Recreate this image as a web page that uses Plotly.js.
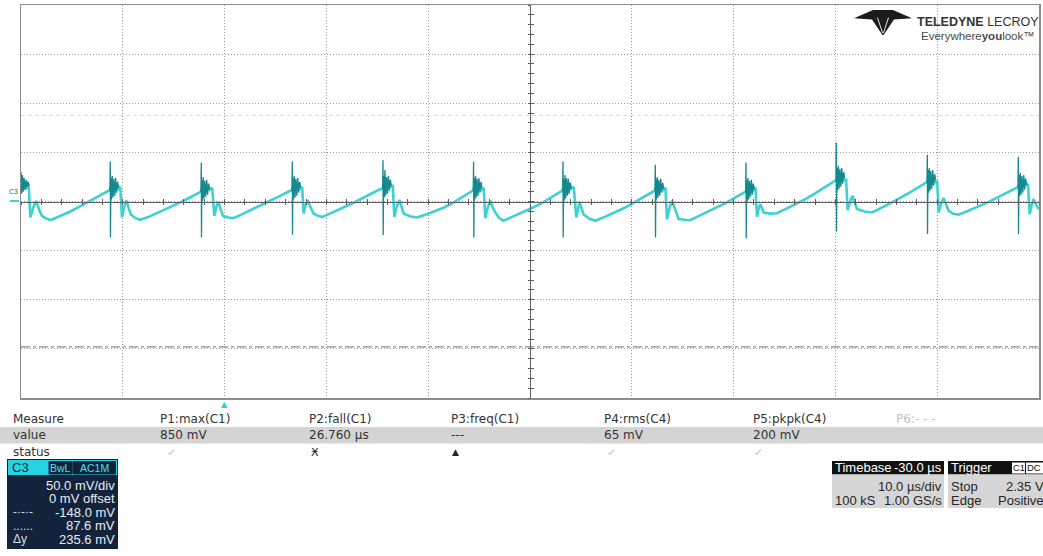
<!DOCTYPE html>
<html>
<head>
<meta charset="utf-8">
<script src="https://cdn.plot.ly/plotly-3.0.1.min.js"></script>
<style>
  html, body { margin: 0; padding: 0; background: #ffffff; }
  #scope { width: 1043px; height: 556px; }
</style>
</head>
<body>
<div id="scope"></div>
<script>
// ---- C3 acquisition: time in microseconds, level in millivolts ----
const timeUs = [
  -20.00, -19.85, -19.70, -19.55, -19.40, -19.25, -19.08, -18.80, -18.50, -18.20, -17.94, -17.50, -17.10, -16.20, -15.20, -14.20, -13.20, -12.30, -11.42,
  -11.30, -11.05, -10.85, -10.62, -10.42, -10.25, -10.08, -9.88, -9.66, -9.42, -9.19, -8.75, -8.28, -7.30, -6.30, -5.30, -4.40, -3.40, -2.46,
  -2.36, -2.10, -1.90, -1.68, -1.46, -1.22, -1.01, -0.80, -0.59, -0.38, -0.16, 0.35, 0.85, 1.80, 2.75, 3.70, 4.60, 5.50, 6.45,
  6.58, 6.85, 7.05, 7.25, 7.45, 7.62, 7.76, 7.95, 8.15, 8.45, 8.74, 9.15, 9.60, 10.50, 11.50, 12.40, 13.40, 14.30, 15.30,
  15.48, 15.75, 15.95, 16.15, 16.35, 16.52, 16.67, 16.92, 17.19, 17.38, 17.58, 18.20, 18.90, 19.80, 20.60, 21.50, 22.40, 23.30, 24.30,
  24.38, 24.65, 24.85, 25.05, 25.25, 25.45, 25.61, 25.85, 26.10, 26.30, 26.49, 26.95, 27.40, 28.30, 29.30, 30.30, 31.20, 32.20, 33.14,
  33.17, 33.45, 33.65, 33.85, 34.05, 34.30, 34.55, 34.70, 34.87, 35.07, 35.27, 35.85, 36.42, 37.40, 38.30, 39.30, 40.20, 41.20, 42.14,
  42.24, 42.50, 42.72, 42.92, 43.12, 43.30, 43.46, 43.70, 43.95, 44.30, 44.60, 45.20, 45.75, 46.60, 47.50, 48.40, 49.20, 50.10, 50.98,
  51.15, 51.42, 51.62, 51.82, 52.00, 52.15, 52.30, 52.45, 52.62, 52.80, 52.95, 53.60, 54.26, 55.20, 56.10, 57.10, 58.00, 59.00, 59.99,
  60.03, 60.28, 60.48, 60.68, 60.88, 61.05, 61.20, 61.45, 61.69, 61.90, 62.12, 62.85, 63.60, 64.50, 65.40, 66.20, 67.10, 67.95, 68.83,
  68.96, 69.22, 69.42, 69.62, 69.82, 70.00, 70.14, 70.40, 70.63, 70.88, 71.12, 71.60, 72.10, 73.00, 74.00, 75.00, 75.90, 76.90, 77.84,
  77.91, 78.15, 78.35, 78.55, 78.75, 78.92, 79.08, 79.28, 79.47, 79.70, 79.93, 80.00
];
const c3mV = [
  26, 14, 22, 12, 20, 17, -16.3, -6.0, 0.7, -9.0, -14.6, -17.5, -18.9, -15.2, -10.4, -4.9, 0.5, 5.8, 10.9,
  11.5, 16, 12, 19, 13, 15, -16.3, -6.0, 1.4, -7.0, -13.5, -17.0, -18.6, -14.9, -10.3, -5.6, -1.1, 4.1, 9.2,
  9.8, 15, 11, 18, 12, 14, -14.6, -5.0, -0.3, -8.0, -14.6, -16.2, -16.9, -12.6, -8.0, -3.5, 1.2, 5.9, 10.9,
  11.3, 17, 12, 19, 13, 15, -12.2, -4.0, 1.4, -6.0, -12.2, -14.6, -15.6, -11.6, -7.1, -2.6, 2.5, 7.4, 12.6,
  12.9, 18, 13, 21, 14, 17, -15.6, -5.0, 1.4, -6.0, -12.2, -15.0, -16.3, -13.2, -10.3, -6.3, -1.6, 4.3, 10.9,
  11.2, 16, 11, 19, 12, 14, -16.9, -6.0, 0.7, -5.0, -9.5, -16.5, -19.6, -15.4, -10.9, -6.1, -1.4, 4.6, 10.9,
  11.4, 17, 12, 19, 13, 15, -16.3, -7.0, -0.3, -7.0, -13.2, -17.6, -19.6, -15.4, -11.2, -6.4, -1.2, 4.8, 10.9,
  11.0, 16, 11, 18, 12, 14, -17.9, -7.0, 0.7, -9.0, -17.9, -18.6, -18.9, -14.6, -10.3, -5.8, -1.6, 3.8, 9.2,
  9.8, 15, 11, 18, 12, 13, -15.6, -8.0, -2.6, -7.0, -11.2, -12.3, -11.9, -7.2, -2.8, 2.6, 8.3, 14.7, 21.1,
  21.6, 26, 20, 28, 21, 23, -8.8, 0.0, 5.8, -1.0, -7.7, -10.2, -11.2, -6.4, -1.9, 2.6, 7.9, 13.4, 19.3,
  19.6, 24, 18, 26, 19, 21, -11.2, -2.0, 3.5, -3.0, -9.5, -12.6, -13.5, -9.6, -5.2, -0.6, 4.0, 9.2, 14.3,
  14.6, 20, 15, 23, 16, 18, -12.8, -4.0, 2.4, -3.0, -7.4, -8.0
];

// Switching edges: the spike and the ringing that follows each one (null breaks the line)
const ringTimeUs = [
  -20.00, -19.94, -19.86, -19.78, -19.70, -19.60, -19.50, -19.40, -19.30, -19.20, null,
  -11.27, -11.23, -11.21, -11.17, -11.11, -11.04, -10.96, -10.88, -10.79, -10.70, -10.61, -10.51, -10.41, null,
  -2.33, -2.29, -2.27, -2.23, -2.17, -2.10, -2.02, -1.94, -1.85, -1.76, -1.67, -1.57, -1.47, null,
  6.61, 6.65, 6.67, 6.71, 6.77, 6.84, 6.92, 7.00, 7.09, 7.18, 7.27, 7.37, 7.47, null,
  15.52, 15.56, 15.58, 15.62, 15.68, 15.75, 15.83, 15.91, 16.00, 16.09, 16.18, 16.28, 16.38, null,
  24.42, 24.46, 24.48, 24.52, 24.58, 24.65, 24.73, 24.81, 24.90, 24.99, 25.08, 25.18, 25.28, null,
  33.20, 33.24, 33.26, 33.30, 33.36, 33.43, 33.51, 33.59, 33.68, 33.77, 33.86, 33.96, 34.06, null,
  42.27, 42.31, 42.33, 42.37, 42.43, 42.50, 42.58, 42.66, 42.75, 42.84, 42.93, 43.03, 43.13, null,
  51.18, 51.22, 51.24, 51.28, 51.34, 51.41, 51.49, 51.57, 51.66, 51.75, 51.84, 51.94, 52.04, null,
  60.05, 60.09, 60.11, 60.15, 60.21, 60.28, 60.36, 60.44, 60.53, 60.62, 60.71, 60.81, 60.91, null,
  68.99, 69.03, 69.05, 69.09, 69.15, 69.22, 69.30, 69.38, 69.47, 69.56, 69.65, 69.75, 69.85, null,
  77.93, 77.97, 77.99, 78.03, 78.09, 78.16, 78.24, 78.32, 78.41, 78.50, 78.59, 78.69, 78.79
];
const ringMV = [
  30, 8, 27, 10, 24, 12, 22, 14, 20, 16, null,
  11, 40.7, -36.6, 24, 2, 26, 4, 23, 6, 24, 9, 20, 14, null,
  9.5, 39.7, -36.6, 22, 0, 25, 3, 21, 5, 22, 7, 18, 12, null,
  11, 40.7, -33.9, 24, 2, 26, 4, 23, 6, 24, 9, 20, 14, null,
  12.6, 42.1, -34.2, 26, 4, 32, 6, 25, 8, 26, 11, 22, 16, null,
  11, 40.7, -36.6, 24, 2, 26, 4, 23, 6, 24, 9, 20, 14, null,
  11, 40.7, -36.6, 23, 1, 27, 3, 24, 6, 23, 8, 19, 13, null,
  11, 37.4, -36.6, 23, 2, 25, 4, 22, 6, 23, 9, 19, 13, null,
  9.5, 39.7, -37.3, 22, 0, 24, 2, 21, 5, 22, 7, 18, 12, null,
  21, 60.1, -30.5, 34, 11, 36, 13, 33, 15, 34, 18, 30, 24, null,
  19.3, 47.5, -33.2, 32, 9, 34, 11, 31, 13, 32, 16, 28, 22, null,
  14.3, 45.5, -33.2, 27, 5, 29, 7, 26, 9, 27, 12, 23, 17
];

// Horizontal cursors on C3 (mV)
const cursorLevelsMV = [-148.0, 87.6];

// Channel and timebase settings
const c3Settings = ['50.0 mV/div', '0 mV offset'];
const timebaseText = ['Timebase', '-30.0 µs', '10.0 µs/div', '100 kS', '1.00 GS/s'];
const triggerText = ['Trigger', 'C1', 'DC', 'Stop', '2.35 V', 'Edge', 'Positive'];

// Measurement table
const measureHeads = ['P1:max(C1)', 'P2:fall(C1)', 'P3:freq(C1)', 'P4:rms(C4)', 'P5:pkpk(C4)', 'P6:- - -'];
const measureValues = ['850 mV', '26.760 µs', '---', '65 mV', '200 mV', ''];
const measureStatus = ['✓', 'Ӿ', '▲', '✓', '✓', ''];

// ---- screen geometry (pixels) ----
const PAGE_W = 1043, PAGE_H = 556;
const L = 21, T = 5, W = 1018, H = 393;
const px2x = p => (p - L) / W;
const px2y = p => 1 - (p - T) / H;

const tRange = [-20, 80];
const vRange = [-200, 200];

const TRACE_CYAN = '#3cd2d4';
const TRACE_DARK = '#15898e';
const tableFont = 'DejaVu Sans, Verdana, sans-serif';
const boxFont = 'Liberation Sans, Arial, Helvetica, sans-serif';

const annotations = [];
function label(text, x, y, o) {
  o = o || {};
  annotations.push({
    text: text, showarrow: false,
    xref: 'paper', yref: 'paper', x: px2x(x), y: px2y(y),
    xanchor: o.anchor || 'left', yanchor: 'middle',
    font: { family: o.family || tableFont, size: o.size || 12, color: o.color || '#333333' },
    borderpad: 0
  });
}
const shapes = [];
function box(x0, y0, x1, y1, fill, lineColor) {
  shapes.push({
    type: 'rect', xref: 'paper', yref: 'paper', layer: 'above',
    x0: px2x(x0), x1: px2x(x1), y0: px2y(y1), y1: px2y(y0),
    fillcolor: fill, line: { width: lineColor ? 1 : 0, color: lineColor || fill }
  });
}

// Cursor lines
shapes.push({
  type: 'line', xref: 'paper', yref: 'y', x0: 0, x1: 1, y0: cursorLevelsMV[0], y1: cursorLevelsMV[0],
  line: { color: '#8a8a8a', width: 1.3, dash: '9px,3px,3px,3px' }, layer: 'below'
});
shapes.push({
  type: 'line', xref: 'paper', yref: 'y', x0: 0, x1: 1, y0: cursorLevelsMV[1], y1: cursorLevelsMV[1],
  line: { color: '#dadada', width: 1, dash: '4px,3px' }, layer: 'below'
});

// Channel ground marker at the left edge
shapes.push({
  type: 'line', xref: 'paper', yref: 'paper', x0: px2x(10), x1: px2x(19), y0: px2y(201), y1: px2y(201),
  line: { color: TRACE_CYAN, width: 2 }
});
label('C3', 8, 191, { size: 7, color: '#555555', family: boxFont });

// Trigger position marker below the grid
annotations.push({
  text: '▲', showarrow: false, xref: 'x', yref: 'paper', x: 0, y: px2y(398),
  xanchor: 'center', yanchor: 'top', font: { size: 8, color: '#33c9da', family: tableFont }
});

// Measurement table
box(0, 427, PAGE_W, 443.5, '#d4d4d4');
const colX = [159, 308, 450, 603, 752, 895];
const statusX = [166, 310, 451, 606, 753];
label('Measure', 12, 419);
label('value', 12, 435);
label('status', 12, 452);
measureHeads.forEach((t, i) => label(t, colX[i], 419, { color: i === 5 ? '#c2c2c2' : '#333333' }));
measureValues.forEach((t, i) => { if (t) label(t, colX[i], 435); });
measureStatus.forEach((t, i) => {
  if (!t) return;
  const c = t === '✓' ? '#c4c4c4' : '#222222';
  label(t, statusX[i], 452, { size: t === '▲' ? 9 : 11, color: c });
});

// C3 channel box
box(7, 459, 118, 549, '#13233b');
box(8, 460, 117, 475, '#27d3e3');
label('C3', 11, 467.5, { family: boxFont, size: 13, color: '#13233b' });
box(49, 461.5, 72, 474, '#13233b', '#13233b');
box(73, 461.5, 115.5, 474, '#13233b', '#13233b');
label('BwL', 60.5, 468, { family: boxFont, size: 10.5, color: '#3fe0ef', anchor: 'center' });
label('AC1M', 94.2, 468, { family: boxFont, size: 10.5, color: '#3fe0ef', anchor: 'center' });
const c3Rows = [
  ['', c3Settings[0]],
  ['', c3Settings[1]],
  ['-·-·-', cursorLevelsMV[0].toFixed(1) + ' mV'],
  ['......', cursorLevelsMV[1].toFixed(1) + ' mV'],
  ['Δy', (cursorLevelsMV[1] - cursorLevelsMV[0]).toFixed(1) + ' mV']
];
c3Rows.forEach((r, i) => {
  const y = 485 + i * 13.6;
  if (r[0]) label(r[0], 12, y, { family: boxFont, size: 12, color: '#d8dde6' });
  label(r[1], 116, y, { family: boxFont, size: 13, color: '#e8ecf2', anchor: 'right' });
});

// Timebase box
box(832, 461, 944, 474.5, '#121212');
box(832, 474.5, 944, 508, '#d6d6d6');
label(timebaseText[0], 834, 468, { family: boxFont, size: 13, color: '#ffffff' });
label(timebaseText[1], 943, 468, { family: boxFont, size: 13, color: '#ffffff', anchor: 'right' });
label(timebaseText[2], 943, 486, { family: boxFont, size: 13, color: '#262626', anchor: 'right' });
label(timebaseText[3], 834, 500, { family: boxFont, size: 13, color: '#262626' });
label(timebaseText[4], 943, 500, { family: boxFont, size: 13, color: '#262626', anchor: 'right' });

// Trigger box
box(948, 461, 1050, 474.5, '#121212');
box(948, 474.5, 1050, 508, '#d6d6d6');
label(triggerText[0], 950, 468, { family: boxFont, size: 13, color: '#ffffff' });
box(1012, 462.5, 1025, 473.5, '#ffffff');
box(1026, 462.5, 1045, 473.5, '#ffffff');
label(triggerText[1], 1018.5, 468, { family: boxFont, size: 9.5, color: '#111111', anchor: 'center' });
label(triggerText[2], 1034, 468, { family: boxFont, size: 9.5, color: '#111111', anchor: 'center' });
label(triggerText[3], 950, 486, { family: boxFont, size: 13, color: '#262626' });
label(triggerText[4], 1045, 486, { family: boxFont, size: 13, color: '#262626', anchor: 'right' });
label(triggerText[5], 950, 500, { family: boxFont, size: 13, color: '#262626' });
label(triggerText[6], 1045, 500, { family: boxFont, size: 13, color: '#262626', anchor: 'right' });

// Brand mark, top right
label('<b>TELEDYNE</b> LECROY', 916, 21.5, { family: boxFont, size: 12.5, color: '#333333' });
label('Everywhere<b>you</b>look™', 920, 36, { family: boxFont, size: 11.5, color: '#4a4a4a' });
const markSvg =
  "<svg xmlns='http://www.w3.org/2000/svg' viewBox='0 0 58 28'>" +
  "<path d='M0 9.5 L19 1 L39 1 L58 9.5 L40 11 L29.6 27 L28.4 27 L18 11 Z' fill='#1c1c1c'/>" +
  "<path d='M23.5 9 L28.6 25 M34.5 9 L29.4 25' stroke='#ffffff' stroke-width='0.9' fill='none'/>" +
  "</svg>";

const hidden = { x: [null], y: [null], mode: 'lines', hoverinfo: 'skip', showlegend: false };
const traces = [
  { x: timeUs, y: c3mV, mode: 'lines', line: { color: TRACE_CYAN, width: 2.6 }, hoverinfo: 'skip' },
  { x: ringTimeUs, y: ringMV, mode: 'lines', connectgaps: false, line: { color: TRACE_DARK, width: 1.3 }, hoverinfo: 'skip' },
  Object.assign({ xaxis: 'x2', yaxis: 'y' }, hidden),
  Object.assign({ xaxis: 'x3', yaxis: 'y' }, hidden),
  Object.assign({ xaxis: 'x', yaxis: 'y2' }, hidden),
  Object.assign({ xaxis: 'x', yaxis: 'y3' }, hidden)
];

const gridAxis = {
  showgrid: true, gridcolor: '#9a9a9a', gridwidth: 1, griddash: '1px,2px',
  zeroline: false, showticklabels: false, ticks: '',
  showline: true, mirror: true, linecolor: '#8c8c8c', linewidth: 1.5, fixedrange: true
};
const centreX = (ticks) => ({
  overlaying: 'x', anchor: 'free', position: 0.5, range: tRange, tick0: 0, dtick: 2,
  showgrid: false, zeroline: false, showticklabels: false, showline: true,
  linecolor: '#5e5e5e', linewidth: 1.1, ticks: ticks, ticklen: 2.5, tickwidth: 1, tickcolor: '#5e5e5e'
});
const centreY = (ticks) => ({
  overlaying: 'y', anchor: 'free', position: 0.5, range: vRange, tick0: 0, dtick: 10,
  showgrid: false, zeroline: false, showticklabels: false, showline: true,
  linecolor: '#5e5e5e', linewidth: 1.1, ticks: ticks, ticklen: 2.5, tickwidth: 1, tickcolor: '#5e5e5e'
});

const layout = {
  width: PAGE_W, height: PAGE_H,
  margin: { l: L, r: PAGE_W - L - W, t: T, b: PAGE_H - T - H, pad: 0 },
  paper_bgcolor: '#ffffff', plot_bgcolor: '#ffffff',
  showlegend: false, hovermode: false,
  xaxis: Object.assign({ range: tRange, tick0: 0, dtick: 10 }, gridAxis),
  yaxis: Object.assign({ range: vRange, tick0: 0, dtick: 50 }, gridAxis),
  xaxis2: centreX('outside'),
  xaxis3: centreX('inside'),
  yaxis2: centreY('outside'),
  yaxis3: centreY('inside'),
  shapes: shapes,
  annotations: annotations,
  images: [{
    source: 'data:image/svg+xml;utf8,' + encodeURIComponent(markSvg),
    xref: 'paper', yref: 'paper', x: px2x(854), y: px2y(9),
    sizex: 58 / W, sizey: 27 / H, xanchor: 'left', yanchor: 'top', sizing: 'stretch', layer: 'above'
  }]
};

Plotly.newPlot('scope', traces, layout, { staticPlot: true, displayModeBar: false });
</script>
</body>
</html>
